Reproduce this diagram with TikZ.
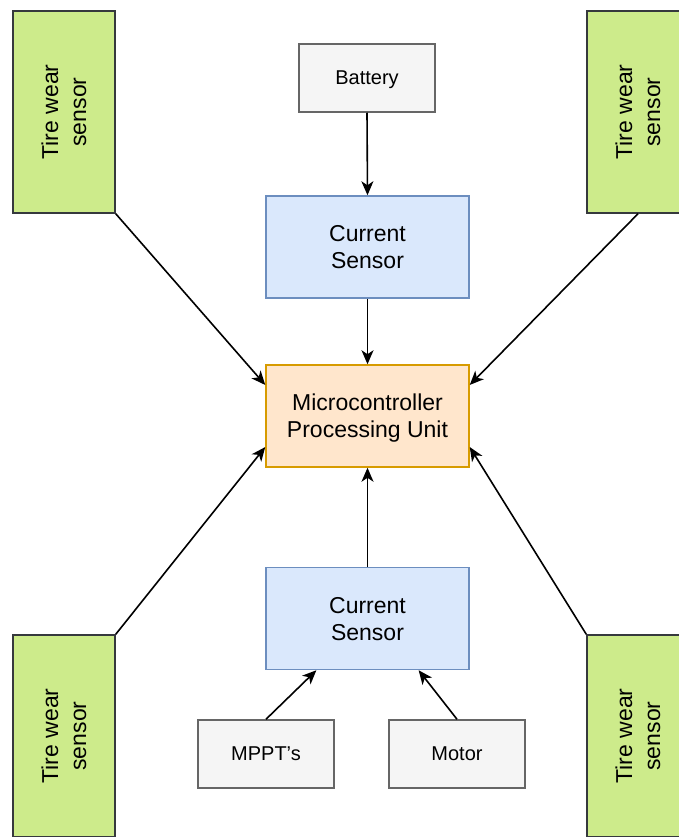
\documentclass[tikz,border=0pt]{standalone}
\usepackage{fontspec}
\setmainfont{Liberation Sans}
\usetikzlibrary{arrows.meta,calc}
\definecolor{grfill}{HTML}{CDEB8B}
\definecolor{grline}{HTML}{36393D}
\definecolor{blfill}{HTML}{DAE8FC}
\definecolor{blline}{HTML}{6C8EBF}
\definecolor{orfill}{HTML}{FFE6CC}
\definecolor{orline}{HTML}{D79B00}
\definecolor{gyfill}{HTML}{F5F5F5}
\definecolor{gyline}{HTML}{666666}
\tikzset{
  tirebox/.style={draw=grline, fill=grfill, line width=1.5pt, minimum width=102pt, minimum height=202pt, inner sep=0pt},
  tirelabel/.style={label={[rotate=90, align=center, font=\fontsize{23}{28}\selectfont]center:Tire wear\\sensor}},
  bluebox/.style={draw=blline, fill=blfill, line width=1.5pt, minimum width=203pt, minimum height=102pt, inner sep=0pt, align=center, text depth=0pt, font=\fontsize{23}{27}\selectfont},
  orbox/.style={draw=orline, fill=orfill, line width=1.5pt, minimum width=203pt, minimum height=102pt, inner sep=0pt, align=center, text depth=0pt, font=\fontsize{23}{27}\selectfont},
  graybox/.style={draw=gyline, fill=gyfill, line width=1.5pt, minimum width=136pt, minimum height=68pt, inner sep=0pt, text depth=0pt, font=\fontsize{20}{24}\selectfont},
  conn/.style={line width=1.6pt, -{Stealth[length=14pt, width=12pt, inset=4pt]}},
}
\begin{document}
\begin{tikzpicture}[x=1pt, y=-1pt]
\useasboundingbox (0,0) rectangle (679,837);
\clip (0,0) rectangle (679,837);
\fill[white] (0,0) rectangle (679,837);
\node[tirebox, tirelabel] (tl) at (64,112) {};
\node[tirebox, tirelabel] (tr) at (638,112) {};
\node[tirebox, tirelabel] (bl) at (64,736) {};
\node[tirebox, tirelabel] (br) at (638,736) {};
\node[graybox] (bat) at (367,78) {Battery};
\node[bluebox] (cs1) at (367.5,247) {Current\\Sensor};
\node[orbox] (mcu) at (367.5,416) {Microcontroller\\Processing Unit};
\node[bluebox] (cs2) at (367.5,618.5) {Current\\Sensor};
\node[graybox] (mppt) at (266,754) {MPPT's};
\node[graybox] (motor) at (457,754) {Motor};
\draw[conn] (bat.south) -- (cs1.north);
\draw[conn] (cs1.south) -- (mcu.north);
\draw[conn] (cs2.north) -- (mcu.south);
\draw[conn] (mppt.north) -- ($(cs2.south west)!0.25!(cs2.south east)$);
\draw[conn] (motor.north) -- ($(cs2.south west)!0.75!(cs2.south east)$);
\draw[conn] (tl.south east) -- ($(mcu.north west)!0.2!(mcu.south west)$);
\draw[conn] (tr.south) -- ($(mcu.north east)!0.2!(mcu.south east)$);
\draw[conn] (bl.north east) -- ($(mcu.north west)!0.8!(mcu.south west)$);
\draw[conn] (br.north west) -- ($(mcu.north east)!0.8!(mcu.south east)$);
\end{tikzpicture}
\end{document}
